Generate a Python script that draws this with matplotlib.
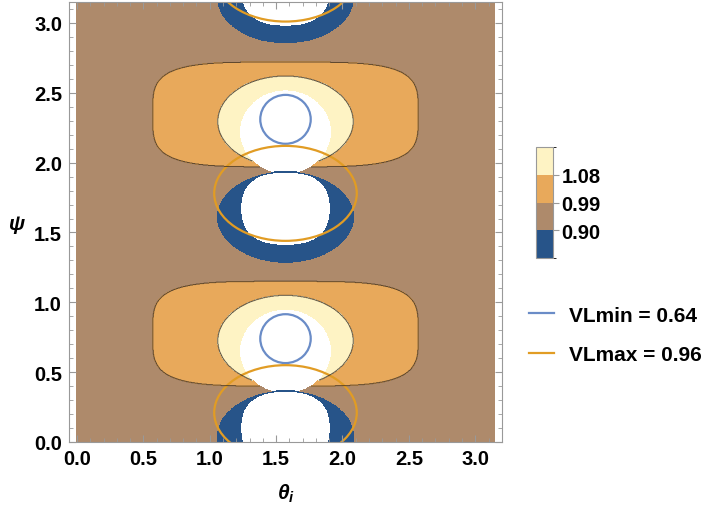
import numpy as np
import matplotlib as mpl
import matplotlib.pyplot as plt
from matplotlib.colors import ListedColormap, BoundaryNorm
from matplotlib.lines import Line2D
from matplotlib.patches import Ellipse

plt.rcParams['font.family'] = ['Liberation Sans', 'DejaVu Sans']
plt.rcParams['font.weight'] = 'bold'
plt.rcParams['mathtext.fontset'] = 'custom'
plt.rcParams['mathtext.rm'] = 'Liberation Sans:bold'
plt.rcParams['mathtext.it'] = 'Liberation Sans:bold:italic'

# contour levels, band colours and a value inside each band
levels = [0.81, 0.90, 0.99, 1.08, 1.17]
band_colors = ['#275489', '#AE8A6B', '#E8A95B', '#FEF3C4']
band_mid = [0.855, 0.945, 1.035, 1.125]
bar_labels = ['0.90', '0.99', '1.08']

# legend entries
vl_names = ['VLmin', 'VLmax']
vl_values = [0.64, 0.96]
vl_colors = ['#6A8CC7', '#E19C24']

# centres (psi) of the repeating features
theta_c = np.pi / 2
psi_band = [0.775, 2.345]        # orange rounded band
psi_yellow = [0.725, 2.295]      # light yellow oval
psi_white_hi = [0.65, 2.22]      # white hole inside yellow
psi_blue = [0.04, 1.61, 3.18]    # dark blue cup
psi_white_lo = [0.10, 1.67, 3.24]
psi_vlmin = [0.74, 2.31]
psi_vlmax = [0.21, 1.78, 3.35]

# half widths (theta, psi) and superellipse exponent
band_shape = (1.0, 0.375, 4)
yellow_shape = (0.51, 0.325, 2)
white_hi_shape = (0.345, 0.30, 2)
blue_shape = (0.52, 0.33, 2)
white_lo_shape = (0.335, 0.26, 2.5)
vlmin_shape = (0.19, 0.175)
vlmax_shape = (0.537, 0.34)

x_ticks = [0.0, 0.5, 1.0, 1.5, 2.0, 2.5, 3.0]
y_ticks = [0.0, 0.5, 1.0, 1.5, 2.0, 2.5, 3.0]

T, P = np.meshgrid(np.linspace(0, np.pi, 900), np.linspace(0, np.pi, 900))


def inside(c, shape):
    a, b, n = shape
    return (np.abs(T - theta_c) / a) ** n + (np.abs(P - c) / b) ** n < 1


Z = np.full(T.shape, band_mid[1])
for c in psi_band:
    Z[inside(c, band_shape)] = band_mid[2]
for c in psi_yellow:
    Z[inside(c, yellow_shape)] = band_mid[3]
for c in psi_white_hi:
    Z[inside(c, white_hi_shape)] = np.nan
for c in psi_blue:
    Z[inside(c, blue_shape)] = band_mid[0]
for c in psi_white_lo:
    Z[inside(c, white_lo_shape)] = np.nan

fig = plt.figure(figsize=(7.09, 5.10), dpi=100)
ax = fig.add_axes([69 / 709, 1 - 443 / 510, 433 / 709, 440 / 510])

ax.contourf(T, P, Z, levels=levels, colors=band_colors)
ax.contour(T, P, Z, levels=levels[2:4], colors='#3a2e22', linewidths=0.7, alpha=0.8)

for c in psi_vlmin:
    ax.add_patch(Ellipse((theta_c, c), 2 * vlmin_shape[0], 2 * vlmin_shape[1],
                         fill=False, ec=vl_colors[0], lw=1.6))
for c in psi_vlmax:
    ax.add_patch(Ellipse((theta_c, c), 2 * vlmax_shape[0], 2 * vlmax_shape[1],
                         fill=False, ec=vl_colors[1], lw=1.6))

ax.set_xlim(-0.06, np.pi + 0.06)
ax.set_ylim(0, 3.15)
ax.set_xticks(x_ticks)
ax.set_xticklabels(['%.1f' % v for v in x_ticks])
ax.set_yticks(y_ticks)
ax.set_yticklabels(['%.1f' % v for v in y_ticks])
ax.set_xticks(np.arange(0, 3.15, 0.1), minor=True)
ax.set_yticks(np.arange(0, 3.15, 0.1), minor=True)
ax.tick_params(which='both', direction='in', top=True, right=True, color='#999999',
               labelsize=14.5)
ax.tick_params(which='major', length=5, pad=5)
ax.tick_params(which='minor', length=3)
for s in ax.spines.values():
    s.set_color('#999999')

ax.set_xlabel(r'$\theta_i$', fontsize=15, labelpad=10)
ax.set_ylabel(r'$\psi$', fontsize=15, rotation=0, labelpad=12)
ax.yaxis.set_label_coords(-0.12, 0.47)

# colour bar
cax = fig.add_axes([536 / 709, 1 - 259 / 510, 17 / 709, 111 / 510])
cb = mpl.colorbar.ColorbarBase(cax, cmap=ListedColormap(band_colors),
                               norm=BoundaryNorm(levels, 4), ticks=levels[1:4])
cb.set_ticklabels(bar_labels)
cb.outline.set_edgecolor('#999999')
cax.tick_params(length=4, color='#999999', labelsize=14.5, pad=2)

# legend
handles = [Line2D([], [], color=col, lw=1.6) for col in vl_colors]
labels = ['%s = %.2f' % (n, v) for n, v in zip(vl_names, vl_values)]
fig.legend(handles, labels, loc='center left', bbox_to_anchor=(529 / 709, 1 - 336 / 510),
           frameon=False, fontsize=15, handlelength=1.2, labelspacing=1.0,
           handletextpad=0.7, borderpad=0, borderaxespad=0)

fig.savefig('out.png', dpi=100)
